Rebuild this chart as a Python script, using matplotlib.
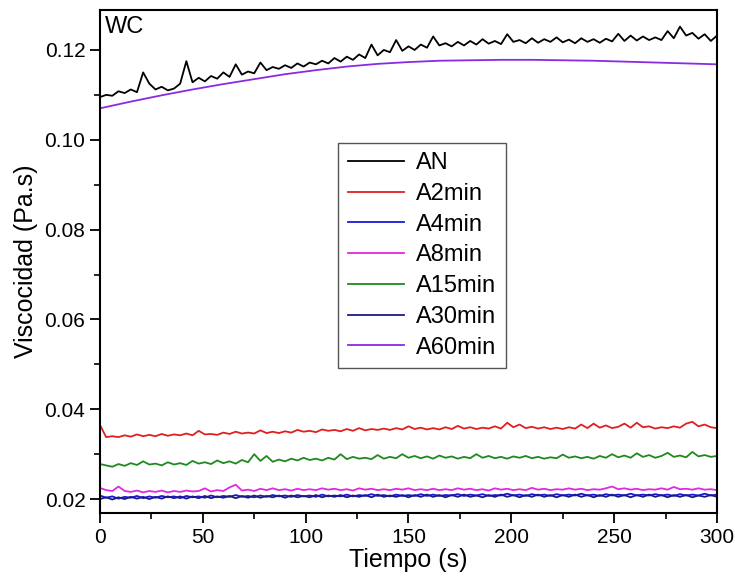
import numpy as np
import matplotlib
matplotlib.use("Agg")
import matplotlib.pyplot as plt
from matplotlib.ticker import MultipleLocator
from matplotlib import font_manager

names = {f.name for f in font_manager.fontManager.ttflist}
fam = [n for n in ["Liberation Sans", "DejaVu Sans"] if n in names]
plt.rcParams['font.family'] = fam

t = np.arange(0, 301, 3)

AN = [0.1095, 0.1100, 0.1098, 0.1108, 0.1104, 0.1112, 0.1106, 0.1150, 0.1125, 0.1112,
      0.1118, 0.1110, 0.1114, 0.1125, 0.1175, 0.1128, 0.1138, 0.1130, 0.1142, 0.1136,
      0.1150, 0.1140, 0.1168, 0.1145, 0.1152, 0.1148, 0.1172, 0.1155, 0.1162, 0.1158,
      0.1166, 0.1160, 0.1170, 0.1163, 0.1172, 0.1168, 0.1176, 0.1170, 0.1182, 0.1174,
      0.1185, 0.1178, 0.1190, 0.1182, 0.1212, 0.1188, 0.1200, 0.1195, 0.1222, 0.1198,
      0.1208, 0.1200, 0.1212, 0.1205, 0.1230, 0.1210, 0.1215, 0.1208, 0.1218, 0.1210,
      0.1220, 0.1212, 0.1224, 0.1214, 0.1220, 0.1213, 0.1235, 0.1218, 0.1222, 0.1215,
      0.1226, 0.1216, 0.1224, 0.1218, 0.1228, 0.1217, 0.1223, 0.1215, 0.1226, 0.1218,
      0.1224, 0.1216, 0.1225, 0.1219, 0.1236, 0.1220, 0.1232, 0.1221, 0.1230, 0.1222,
      0.1228, 0.1222, 0.1242, 0.1226, 0.1252, 0.1232, 0.1238, 0.1225, 0.1235, 0.1220,
      0.1232]

A2 = [0.0365, 0.0338, 0.0340, 0.0338, 0.0342, 0.0339, 0.0344, 0.0340, 0.0343, 0.0340,
      0.0345, 0.0341, 0.0344, 0.0342, 0.0346, 0.0342, 0.0352, 0.0344, 0.0345, 0.0343,
      0.0348, 0.0345, 0.0350, 0.0346, 0.0348, 0.0346, 0.0353, 0.0347, 0.0350, 0.0347,
      0.0351, 0.0348, 0.0354, 0.0350, 0.0352, 0.0349, 0.0355, 0.0352, 0.0354, 0.0351,
      0.0356, 0.0352, 0.0358, 0.0353, 0.0356, 0.0354, 0.0357, 0.0354, 0.0358, 0.0355,
      0.0362, 0.0356, 0.0359, 0.0355, 0.0358, 0.0355, 0.0360, 0.0356, 0.0363, 0.0357,
      0.0360, 0.0356, 0.0359, 0.0357, 0.0362, 0.0357, 0.0370, 0.0360, 0.0366, 0.0358,
      0.0361, 0.0357, 0.0360, 0.0356, 0.0359, 0.0356, 0.0360, 0.0357, 0.0366, 0.0358,
      0.0368, 0.0359, 0.0364, 0.0358, 0.0361, 0.0368, 0.0359, 0.0370, 0.0360, 0.0362,
      0.0357, 0.0360, 0.0358, 0.0362, 0.0359, 0.0368, 0.0372, 0.0362, 0.0366, 0.0360,
      0.0358]

A4 = [0.0208, 0.0203, 0.0206, 0.0201, 0.0205, 0.0203, 0.0207, 0.0202, 0.0206, 0.0203,
      0.0207, 0.0204, 0.0206, 0.0202, 0.0207, 0.0204, 0.0206, 0.0203, 0.0208, 0.0204,
      0.0207, 0.0205, 0.0209, 0.0205, 0.0207, 0.0204, 0.0208, 0.0205, 0.0209, 0.0206,
      0.0208, 0.0205, 0.0209, 0.0206, 0.0208, 0.0205, 0.0210, 0.0206, 0.0208, 0.0206,
      0.0210, 0.0206, 0.0209, 0.0207, 0.0211, 0.0207, 0.0209, 0.0206, 0.0210, 0.0207,
      0.0209, 0.0207, 0.0211, 0.0207, 0.0210, 0.0207, 0.0209, 0.0208, 0.0211, 0.0207,
      0.0210, 0.0208, 0.0211, 0.0207, 0.0209, 0.0208, 0.0212, 0.0208, 0.0210, 0.0207,
      0.0211, 0.0208, 0.0210, 0.0207, 0.0211, 0.0208, 0.0210, 0.0208, 0.0212, 0.0208,
      0.0210, 0.0207, 0.0211, 0.0208, 0.0210, 0.0208, 0.0212, 0.0208, 0.0210, 0.0208,
      0.0211, 0.0208, 0.0210, 0.0207, 0.0211, 0.0208, 0.0210, 0.0208, 0.0212, 0.0208,
      0.0210]

A8 = [0.0225, 0.0220, 0.0218, 0.0228, 0.0218, 0.0216, 0.0219, 0.0215, 0.0218, 0.0216,
      0.0219, 0.0215, 0.0218, 0.0216, 0.0219, 0.0217, 0.0218, 0.0224, 0.0217, 0.0220,
      0.0218, 0.0226, 0.0232, 0.0219, 0.0221, 0.0218, 0.0223, 0.0220, 0.0224, 0.0220,
      0.0222, 0.0219, 0.0223, 0.0220, 0.0222, 0.0220, 0.0224, 0.0221, 0.0223, 0.0220,
      0.0222, 0.0219, 0.0224, 0.0221, 0.0223, 0.0220, 0.0222, 0.0220, 0.0223, 0.0221,
      0.0224, 0.0220, 0.0222, 0.0220, 0.0223, 0.0220, 0.0222, 0.0220, 0.0224, 0.0221,
      0.0223, 0.0220, 0.0222, 0.0219, 0.0224, 0.0221, 0.0223, 0.0220, 0.0222, 0.0220,
      0.0225, 0.0221, 0.0223, 0.0220, 0.0222, 0.0221, 0.0224, 0.0221, 0.0223, 0.0220,
      0.0222, 0.0221, 0.0224, 0.0228, 0.0222, 0.0224, 0.0221, 0.0223, 0.0220, 0.0222,
      0.0221, 0.0224, 0.0221, 0.0227, 0.0222, 0.0223, 0.0221, 0.0224, 0.0221, 0.0222,
      0.0220]

A15 = [0.0278, 0.0275, 0.0272, 0.0278, 0.0274, 0.0280, 0.0276, 0.0284, 0.0277, 0.0279,
       0.0275, 0.0282, 0.0277, 0.0280, 0.0276, 0.0285, 0.0279, 0.0282, 0.0278, 0.0286,
       0.0280, 0.0284, 0.0279, 0.0287, 0.0282, 0.0300, 0.0285, 0.0296, 0.0283, 0.0288,
       0.0284, 0.0290, 0.0286, 0.0292, 0.0287, 0.0290, 0.0286, 0.0292, 0.0288, 0.0300,
       0.0289, 0.0294, 0.0290, 0.0292, 0.0289, 0.0298, 0.0290, 0.0294, 0.0291, 0.0300,
       0.0292, 0.0296, 0.0291, 0.0295, 0.0290, 0.0297, 0.0292, 0.0295, 0.0290, 0.0294,
       0.0291, 0.0300, 0.0292, 0.0296, 0.0291, 0.0294, 0.0290, 0.0295, 0.0292, 0.0296,
       0.0291, 0.0294, 0.0290, 0.0293, 0.0291, 0.0299, 0.0292, 0.0295, 0.0291, 0.0294,
       0.0290, 0.0296, 0.0292, 0.0300, 0.0293, 0.0297, 0.0292, 0.0302, 0.0294, 0.0298,
       0.0292, 0.0296, 0.0303, 0.0294, 0.0297, 0.0293, 0.0305, 0.0295, 0.0298, 0.0294,
       0.0296]

A30 = [0.0200, 0.0204, 0.0199, 0.0204, 0.0200, 0.0205, 0.0201, 0.0205, 0.0200, 0.0205,
       0.0201, 0.0206, 0.0202, 0.0206, 0.0201, 0.0206, 0.0202, 0.0207, 0.0202, 0.0206,
       0.0203, 0.0207, 0.0202, 0.0207, 0.0203, 0.0208, 0.0203, 0.0207, 0.0204, 0.0208,
       0.0203, 0.0208, 0.0204, 0.0207, 0.0204, 0.0209, 0.0204, 0.0208, 0.0205, 0.0209,
       0.0204, 0.0208, 0.0205, 0.0209, 0.0204, 0.0210, 0.0205, 0.0208, 0.0205, 0.0209,
       0.0204, 0.0209, 0.0205, 0.0210, 0.0205, 0.0209, 0.0204, 0.0209, 0.0205, 0.0210,
       0.0205, 0.0208, 0.0204, 0.0209, 0.0205, 0.0210, 0.0205, 0.0209, 0.0204, 0.0209,
       0.0205, 0.0210, 0.0205, 0.0209, 0.0204, 0.0209, 0.0205, 0.0210, 0.0205, 0.0209,
       0.0204, 0.0209, 0.0205, 0.0210, 0.0205, 0.0209, 0.0204, 0.0209, 0.0205, 0.0210,
       0.0205, 0.0209, 0.0204, 0.0209, 0.0205, 0.0209, 0.0204, 0.0208, 0.0205, 0.0209,
       0.0205]

t60 = np.arange(0, 301, 15)
A60 = [0.1070, 0.1085, 0.1099, 0.1112, 0.1124, 0.1135, 0.1146, 0.1155, 0.1163, 0.1169,
       0.1173, 0.1176, 0.1177, 0.1178, 0.1178, 0.1177, 0.1176, 0.1174, 0.1172, 0.1170,
       0.1168]

labels = ["AN", "A2min", "A4min", "A8min", "A15min", "A30min", "A60min"]
colors = ["#000000", "#e02020", "#1818d8", "#e028e0", "#1e8a1e", "#1c1c80", "#8a2be2"]

fig = plt.figure(figsize=(7.35, 5.8), dpi=100)
ax = fig.add_axes([0.136, 0.1155, 0.8395, 0.8673])

series = [(t, AN), (t, A2), (t, A4), (t, A8), (t, A15), (t, A30), (t60, A60)]
for (x, y), lab, c in zip(series, labels, colors):
    ax.plot(x, y, color=c, lw=1.3, label=lab)

ax.set_xlim(0, 300)
ax.set_ylim(0.0169, 0.1289)
ax.xaxis.set_major_locator(MultipleLocator(50))
ax.xaxis.set_minor_locator(MultipleLocator(25))
ax.yaxis.set_major_locator(MultipleLocator(0.02))
ax.yaxis.set_minor_locator(MultipleLocator(0.01))
ax.yaxis.set_major_formatter(matplotlib.ticker.FormatStrFormatter('%.2f'))
ax.tick_params(which='major', direction='out', length=7, width=1.3, labelsize=15)
ax.tick_params(which='minor', direction='out', length=4, width=1.2)
for s in ax.spines.values():
    s.set_linewidth(1.5)

ax.set_xlabel("Tiempo (s)", fontsize=18, labelpad=1)
ax.set_ylabel("Viscocidad (Pa.s)", fontsize=18, labelpad=5)
ax.text(0.008, 0.988, "WC", transform=ax.transAxes, fontsize=17, va='top', ha='left')

leg = ax.legend(loc='upper left', bbox_to_anchor=(0.386, 0.736), fontsize=17,
                frameon=True, fancybox=False, edgecolor='#555555', framealpha=1,
                handlelength=2.4, labelspacing=0.37, borderpad=0.4, handletextpad=0.5,
                borderaxespad=0)
leg.get_frame().set_linewidth(1.0)

fig.savefig("out.png", dpi=100)
